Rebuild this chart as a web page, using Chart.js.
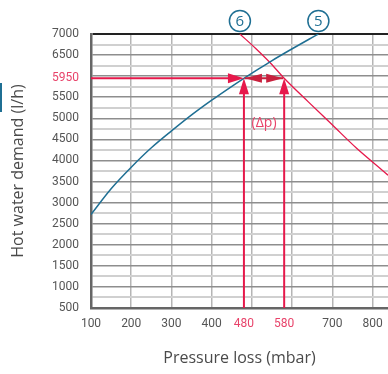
<!DOCTYPE html>
<html><head><meta charset="utf-8">
<script src="https://cdn.jsdelivr.net/npm/chart.js@4.4.1/dist/chart.umd.min.js"></script>
<style>
html,body{margin:0;padding:0;background:#fff;overflow:hidden}
#wrap{position:relative;width:388px;height:374px}
#tab{position:absolute;left:0;top:83px;width:2px;height:29px;background:#1f6f93}
</style></head><body>
<div id="wrap"><canvas id="c" width="388" height="374"></canvas><div id="tab"></div></div>
<script>
// Curve 5 (blue): pressure loss (mbar) -> hot water demand (l/h)
const pressure5 = [100, 150, 200, 250, 300, 350, 400, 450, 480, 500, 550, 600, 650, 665];
const demand5   = [2720, 3330, 3840, 4300, 4700, 5080, 5430, 5760, 5950, 6070, 6370, 6650, 6920, 7000];
// Curve 6 (red)
const pressure6 = [470, 510, 547, 580, 640, 700, 760, 838, 860];
const demand6   = [7000, 6650, 6300, 5950, 5390, 4840, 4290, 3650, 3450];
// Operating point
const opDemand = 5950;
const opPressure5 = 480;
const opPressure6 = 580;
const deltaLabel = '(Δp)';
const curveLabels = ['5', '6'];
// Axis ticks
const xTickValues = [100, 200, 300, 400, 480, 500, 580, 600, 700, 800];
const xHiddenLabels = [500, 600];
const yTickValues = [500,750,1000,1250,1500,1750,2000,2250,2500,2750,3000,3250,3500,3750,4000,4250,4500,4750,5000,5250,5500,5750,5950,6000,6250,6500,6750,7000];
const yHiddenLabels = [6000];
const xMin = 100, xMax = 838, yMin = 500, yMax = 7000;

const BLUE = '#1f6f93', RED = '#e6194b', RED_TXT = '#e8436a', DARK_RED = '#c8213e';

function pts(xs, ys){ return xs.map((x,i)=>({x, y: ys[i]})); }

const annot = {
  id: 'annot',
  afterDatasetsDraw(chart){
    const {ctx, chartArea:a, scales:{x, y}} = chart;
    const yy = y.getPixelForValue(opDemand);
    const x5 = x.getPixelForValue(opPressure5);
    const x6 = x.getPixelForValue(opPressure6);
    ctx.save();
    ctx.beginPath();
    ctx.rect(a.left, a.top - 40, a.right - a.left, a.bottom - a.top + 40);
    ctx.clip();
    ctx.strokeStyle = RED; ctx.fillStyle = RED; ctx.lineWidth = 2;
    ctx.beginPath(); ctx.moveTo(a.left, yy); ctx.lineTo(x5 - 10, yy); ctx.stroke();
    ctx.beginPath(); ctx.moveTo(x5, yy); ctx.lineTo(x5 - 16, yy - 5); ctx.lineTo(x5 - 16, yy + 5); ctx.closePath(); ctx.fill();
    [x5, x6].forEach(px => {
      ctx.beginPath(); ctx.moveTo(px, a.bottom); ctx.lineTo(px, yy + 10); ctx.stroke();
      ctx.beginPath(); ctx.moveTo(px, yy); ctx.lineTo(px - 5, yy + 16); ctx.lineTo(px + 5, yy + 16); ctx.closePath(); ctx.fill();
    });
    ctx.fillStyle = DARK_RED; ctx.strokeStyle = DARK_RED;
    ctx.beginPath(); ctx.moveTo(x5 + 1, yy); ctx.lineTo(x6 - 1, yy); ctx.stroke();
    ctx.beginPath(); ctx.moveTo(x5 + 1, yy); ctx.lineTo(x5 + 18, yy - 4.5); ctx.lineTo(x5 + 18, yy + 4.5); ctx.closePath(); ctx.fill();
    ctx.beginPath(); ctx.moveTo(x6 - 1, yy); ctx.lineTo(x6 - 18, yy - 4.5); ctx.lineTo(x6 - 18, yy + 4.5); ctx.closePath(); ctx.fill();
    ctx.fillStyle = RED_TXT; ctx.font = '14px "Open Sans"'; ctx.textAlign = 'center'; ctx.textBaseline = 'middle';
    ctx.fillText(deltaLabel, (x5 + x6) / 2, yy + 45);
    ctx.restore();
    const ends = [pressure5[pressure5.length - 1], pressure6[0]];
    ctx.save();
    ends.forEach((p, i) => {
      const cx = x.getPixelForValue(p), cy = a.top - 13;
      ctx.beginPath(); ctx.arc(cx, cy, 10.5, 0, Math.PI * 2);
      ctx.fillStyle = '#fff'; ctx.fill();
      ctx.strokeStyle = BLUE; ctx.lineWidth = 1.5; ctx.stroke();
      ctx.fillStyle = BLUE; ctx.font = '15px "Open Sans"'; ctx.textAlign = 'center'; ctx.textBaseline = 'middle';
      ctx.fillText(curveLabels[i], cx, cy + 1);
    });
    ctx.restore();
  }
};

new Chart(document.getElementById('c'), {
  type: 'line',
  data: {
    datasets: [
      { data: pts(pressure5, demand5), borderColor: BLUE, borderWidth: 1.5, pointRadius: 0, cubicInterpolationMode: 'monotone', fill: false },
      { data: pts(pressure6, demand6), borderColor: RED, borderWidth: 1.3, pointRadius: 0, cubicInterpolationMode: 'monotone', fill: false }
    ]
  },
  options: {
    responsive: false, animation: false, devicePixelRatio: 1,
    layout: { padding: { left: 0, top: 34, right: 0, bottom: 0 } },
    plugins: { legend: { display: false }, tooltip: { enabled: false } },
    scales: {
      x: {
        type: 'linear', min: xMin, max: xMax,
        afterBuildTicks: s => { s.ticks = xTickValues.map(v => ({ value: v })); },
        afterFit: s => { s.height = 66; s.paddingRight = 0; s.paddingLeft = 0; },
        ticks: {
          autoSkip: false, maxRotation: 0, padding: 9,
          font: { family: 'Roboto', size: 12 },
          color: c => (c.tick && (c.tick.value === opPressure5 || c.tick.value === opPressure6)) ? RED_TXT : '#555',
          callback: v => xHiddenLabels.includes(v) ? '' : String(v)
        },
        grid: {
          drawTicks: false,
          color: c => (c.tick && (c.tick.value === opPressure5 || c.tick.value === opPressure6)) ? 'rgba(0,0,0,0)' : '#b5b5b5',
          lineWidth: 1.5
        },
        border: { color: '#666', width: 2.5 },
        title: { display: true, text: 'Pressure loss (mbar)', color: '#4a4a4a', font: { family: 'Open Sans', size: 16 }, padding: { top: 6, bottom: 6 } }
      },
      y: {
        type: 'linear', min: yMin, max: yMax,
        afterBuildTicks: s => { s.ticks = yTickValues.map(v => ({ value: v })); },
        afterFit: s => { s.width = 91; },
        ticks: {
          autoSkip: false, padding: 12,
          font: { family: 'Roboto', size: 12 },
          color: c => (c.tick && c.tick.value === opDemand) ? RED_TXT : '#555',
          callback: v => (v === opDemand || (v % 500 === 0 && !yHiddenLabels.includes(v))) ? String(v) : ''
        },
        grid: {
          drawTicks: false,
          color: c => {
            const v = c.tick ? c.tick.value : 0;
            if (v === yMax) return '#222';
            if (v === opDemand) return 'rgba(0,0,0,0)';
            return v % 500 === 0 ? '#8e8e8e' : '#d0d0d0';
          },
          lineWidth: c => {
            const v = c.tick ? c.tick.value : 0;
            if (v === yMax) return 2;
            return v % 500 === 0 ? 1.5 : 2;
          }
        },
        border: { color: '#666', width: 2.5 },
        title: { display: true, text: 'Hot water demand (l/h)', color: '#4a4a4a', font: { family: 'Open Sans', size: 16 }, padding: { top: 9, bottom: 0 } }
      }
    }
  },
  plugins: [annot]
});
</script>
</body></html>
